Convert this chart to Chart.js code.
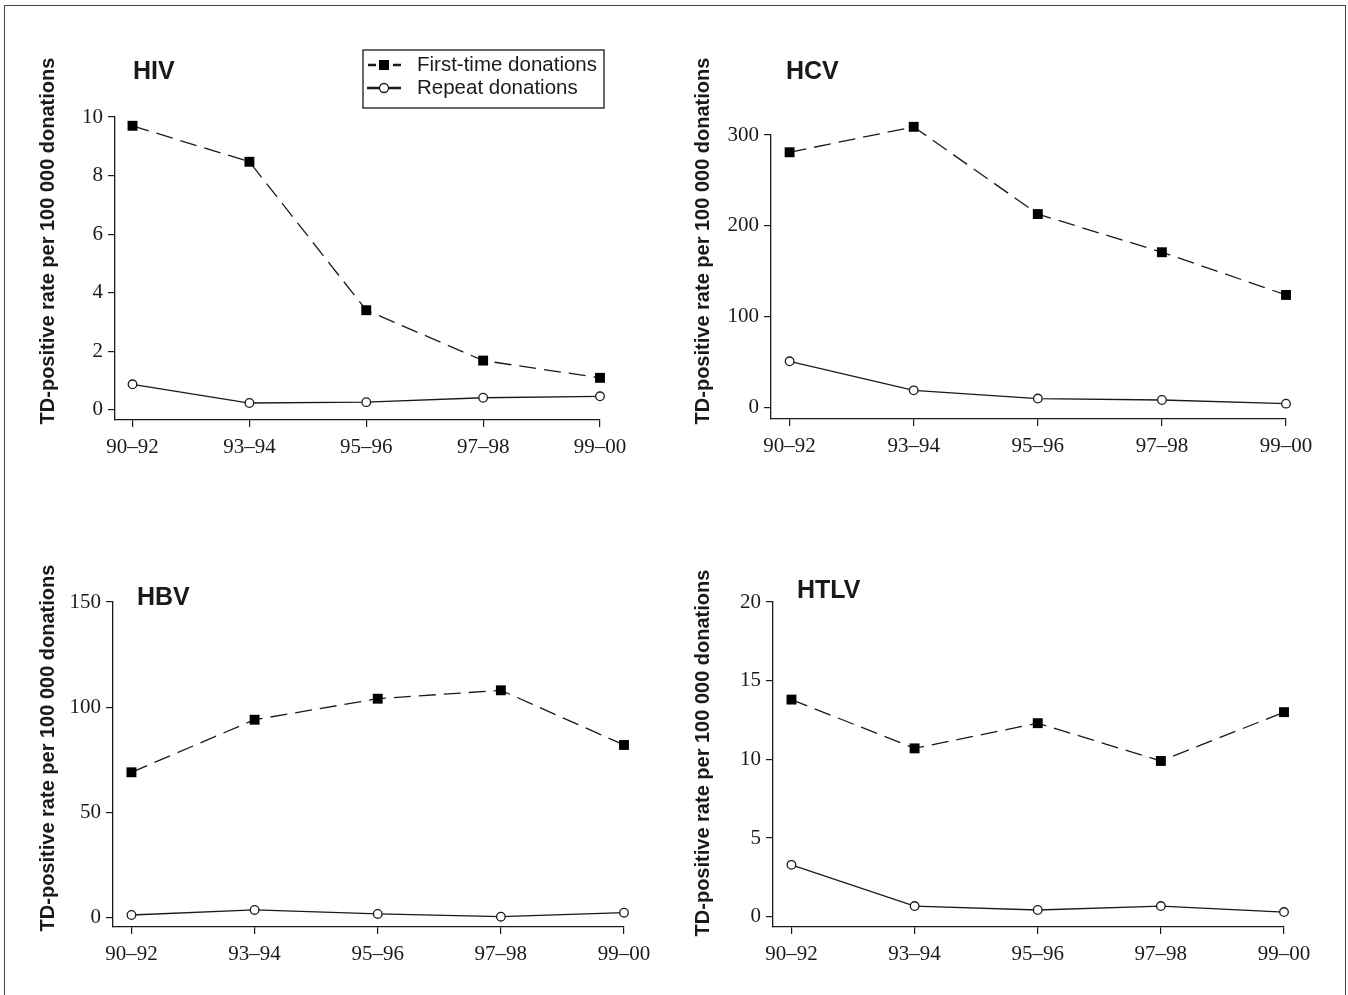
<!DOCTYPE html>
<html>
<head>
<meta charset="utf-8">
<script src="https://cdn.jsdelivr.net/npm/chart.js@4.4.0/dist/chart.umd.min.js"></script>
<style>
  html, body { margin: 0; padding: 0; background: #fff; }
  #frame { position: absolute; left: 4px; top: 5px; width: 1342px; height: 1000px; border: 1.5px solid #444; box-sizing: border-box; }
  canvas { position: absolute; }
</style>
</head>
<body>
<div id="frame"></div>
<canvas id="hiv" width="674" height="497" style="left:0;top:0"></canvas>
<canvas id="hcv" width="674" height="497" style="left:674px;top:0"></canvas>
<canvas id="hbv" width="674" height="498" style="left:0;top:497px"></canvas>
<canvas id="htlv" width="674" height="498" style="left:674px;top:497px"></canvas>
<script>
// periods on the x axis
const periods = ['90–92', '93–94', '95–96', '97–98', '99–00'];

// TD-positive rate per 100 000 donations
const hivFirst = [9.7, 8.47, 3.4, 1.68, 1.09];
const hivRepeat = [0.87, 0.23, 0.26, 0.41, 0.46];
const hcvFirst = [281, 309, 213, 171, 124];
const hcvRepeat = [51, 19, 10, 8.4, 4.4];
const hbvFirst = [69, 94, 104, 108, 82];
const hbvRepeat = [1.1, 3.5, 1.6, 0.3, 2.2];
const htlvFirst = [13.8, 10.7, 12.3, 9.9, 13.0];
const htlvRepeat = [3.3, 0.68, 0.43, 0.68, 0.3];

// y tick labels
const hivTicks = [0, 2, 4, 6, 8, 10];
const hcvTicks = [0, 100, 200, 300];
const hbvTicks = [0, 50, 100, 150];
const htlvTicks = [0, 5, 10, 15, 20];

const INK = '#1a1a1a';
const axisTitle = 'TD-positive rate per 100 000 donations';

// let markers that sit just above the top tick still be drawn
const roomForMarkers = {
  id: 'roomForMarkers',
  beforeDatasetsDraw(chart) {
    chart._realTop = chart.chartArea.top;
    chart.chartArea.top -= 20;
  },
  afterDatasetsDraw(chart) {
    chart.chartArea.top = chart._realTop;
  }
};

const panelText = {
  id: 'panelText',
  afterDraw(chart, args, opts) {
    const ctx = chart.ctx;
    ctx.save();
    ctx.fillStyle = INK;
    ctx.textBaseline = 'middle';
    ctx.font = 'bold 25px "Liberation Sans"';
    ctx.fillText(opts.title, opts.titleX, opts.titleY);
    ctx.translate(opts.axisX, opts.axisY);
    ctx.rotate(-Math.PI / 2);
    ctx.textAlign = 'center';
    ctx.font = 'bold 20px "Liberation Sans"';
    ctx.fillText(axisTitle, 0, 0);
    ctx.restore();
  }
};

const legendBox = {
  id: 'legendBox',
  afterDraw(chart, args, opts) {
    if (!opts.show) return;
    const ctx = chart.ctx;
    const ds = chart.data.datasets;
    const x = opts.x, y = opts.y, w = opts.w, h = opts.h;
    ctx.save();
    ctx.strokeStyle = INK;
    ctx.lineWidth = 1.3;
    ctx.strokeRect(x, y, w, h);
    const row1 = y + 15, row2 = y + 38;
    const sx = x + 5, mid = x + 21, ex = x + 38;
    // first-time: short dashes around a square
    ctx.lineWidth = 2.4;
    ctx.beginPath();
    ctx.moveTo(sx, row1); ctx.lineTo(sx + 8, row1);
    ctx.moveTo(ex - 8, row1); ctx.lineTo(ex, row1);
    ctx.stroke();
    ctx.fillStyle = ds[0].pointBackgroundColor;
    ctx.fillRect(mid - 5, row1 - 5, 10, 10);
    // repeat: solid line with open circle
    ctx.beginPath();
    ctx.moveTo(sx - 1, row2); ctx.lineTo(ex, row2);
    ctx.stroke();
    ctx.beginPath();
    ctx.lineWidth = 1.3;
    ctx.fillStyle = '#fff';
    ctx.arc(mid, row2, 4.5, 0, Math.PI * 2);
    ctx.fill(); ctx.stroke();
    ctx.fillStyle = INK;
    ctx.font = '20.5px "Liberation Sans"';
    ctx.textBaseline = 'middle';
    ctx.fillText(ds[0].label, x + 54, row1);
    ctx.fillText(ds[1].label, x + 54, row2);
    ctx.restore();
  }
};

function makeChart(id, first, repeat, yTicks, yMin, yWidth, pad, text, legend) {
  const toPoints = vals => vals.map((v, i) => ({ x: i, y: v }));
  return new Chart(document.getElementById(id), {
    type: 'line',
    data: {
      datasets: [
        {
          label: 'First-time donations',
          data: toPoints(first),
          clip: false,
          borderColor: INK,
          borderWidth: 1.3,
          borderDash: [17, 8],
          pointStyle: 'rect',
          pointRadius: 7,
          pointBackgroundColor: '#000',
          pointBorderColor: '#000',
          pointBorderWidth: 0
        },
        {
          label: 'Repeat donations',
          data: toPoints(repeat),
          clip: false,
          borderColor: INK,
          borderWidth: 1.3,
          pointStyle: 'circle',
          pointRadius: 4.3,
          pointBackgroundColor: '#fff',
          pointBorderColor: INK,
          pointBorderWidth: 1.3
        }
      ]
    },
    options: {
      responsive: false,
      animation: false,
      layout: { padding: pad },
      plugins: {
        legend: { display: false },
        tooltip: { enabled: false },
        panelText: text,
        legendBox: legend
      },
      scales: {
        x: {
          type: 'linear',
          min: -0.15,
          max: 4,
          afterBuildTicks: s => { s.ticks = periods.map((p, i) => ({ value: i })); },
          afterFit: s => { s.height = 40; s.paddingLeft = 0; s.paddingRight = 0; },
          ticks: {
            callback: v => periods[v],
            color: INK,
            padding: 8,
            maxRotation: 0,
            font: { family: '"Liberation Serif"', size: 21 }
          },
          grid: { drawOnChartArea: false, drawTicks: true, tickLength: 7, color: INK, lineWidth: 1.2 },
          border: { display: true, color: INK, width: 1.3 }
        },
        y: {
          min: yMin,
          max: yTicks[yTicks.length - 1],
          afterBuildTicks: s => { s.ticks = yTicks.map(v => ({ value: v })); },
          afterFit: s => { s.width = yWidth; s.paddingTop = 0; s.paddingBottom = 0; },
          ticks: {
            color: INK,
            padding: 5,
            font: { family: '"Liberation Serif"', size: 21 }
          },
          grid: { drawOnChartArea: false, drawTicks: true, tickLength: 7, color: INK, lineWidth: 1.2 },
          border: { display: true, color: INK, width: 1.3 }
        }
      }
    },
    plugins: [roomForMarkers, panelText, legendBox]
  });
}

makeChart('hiv', hivFirst, hivRepeat, hivTicks, -0.35, 115,
  { left: 0, top: 117, right: 74, bottom: 37 },
  { title: 'HIV', titleX: 133, titleY: 72, axisX: 48, axisY: 241 },
  { show: true, x: 363, y: 50, w: 241, h: 58 });

makeChart('hcv', hcvFirst, hcvRepeat, hcvTicks, -12.5, 97,
  { left: 0, top: 135, right: 62, bottom: 38 },
  { title: 'HCV', titleX: 112, titleY: 72, axisX: 29, axisY: 241 },
  { show: false });

makeChart('hbv', hbvFirst, hbvRepeat, hbvTicks, -4.6, 113,
  { left: 0, top: 105, right: 50, bottom: 28 },
  { title: 'HBV', titleX: 137, titleY: 101, axisX: 48, axisY: 251 },
  { show: false });

makeChart('htlv', htlvFirst, htlvRepeat, htlvTicks, -0.65, 99,
  { left: 0, top: 105, right: 64, bottom: 28 },
  { title: 'HTLV', titleX: 123, titleY: 94, axisX: 29, axisY: 256 },
  { show: false });
</script>
</body>
</html>
